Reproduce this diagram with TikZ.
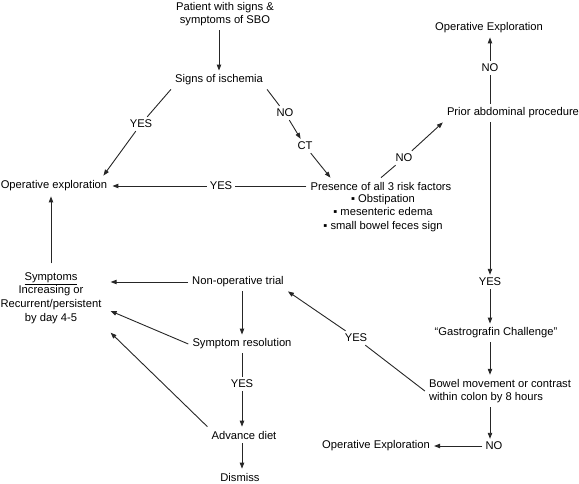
\documentclass[tikz,border=0pt]{standalone}
\usepackage{fontspec}
\setmainfont{Liberation Sans}
\usetikzlibrary{arrows.meta}

\begin{document}
\begin{tikzpicture}[x=1pt, y=-1pt,
    font=\fontsize{11.2}{13.6}\selectfont,
    txt/.style={inner sep=4pt, align=center},
    lbl/.style={inner sep=3pt},
    line/.style={draw=black!85, line width=0.9pt},
    arr/.style={line, -{Triangle[length=6pt,width=4.4pt]}}]

    \useasboundingbox (0,0) rectangle (579,484);
    \coordinate (rcol) at (490,0);
    \coordinate (mcol) at (242,0);

    \node[txt] (patient) at (225,14)  {Patient with signs \&\\symptoms of SBO};
    \node[txt] (isch)    at (219,80)  {Signs of ischemia};
    \node[txt, inner sep=5pt] (opexp) at (54,186) {Operative exploration};
    \node[lbl] (y1)      at (141,124) {YES};
    \node[lbl] (n1)      at (285,113) {NO};
    \node[lbl] (ct)      at (305,146) {CT};
    \node[txt] (pres)    at (381,186) {Presence of all 3 risk factors};
    \node[txt] (risks)   at (383,213) {▪ Obstipation\\▪ mesenteric edema\\▪ small bowel feces sign};
    \node[lbl] (y2)      at (221,186) {YES};
    \node[lbl] (n2)      at (404,158) {NO};
    \node[txt] (prior)   at (513,113) {Prior abdominal procedure};
    \node[lbl] (n3)      at (490,68)  {NO};
    \node[txt] (optop)   at (489,28)  {Operative Exploration};
    \node[lbl] (y3)      at (490,282) {YES};
    \node[txt] (gastro)  at (496,333) {“Gastrografin Challenge”};
    \node[txt, align=left] (bowel) at (500,391) {Bowel movement or contrast\\within colon by 8 hours};
    \node[lbl] (n4)      at (494,446) {NO};
    \node[txt] (opbot)   at (376,446) {Operative Exploration};
    \node[lbl] (y4)      at (356,338) {YES};
    \node[txt] (nonop)   at (238,282) {Non-operative trial};
    \node[txt, inner sep=9pt] (sympt) at (51,298) {\underline{Symptoms}\\Increasing or\\Recurrent/persistent\\by day 4-5};
    \node[txt] (symres)  at (242,344) {Symptom resolution};
    \node[lbl] (y5)      at (242,384) {YES};
    \node[txt] (advdiet) at (244,435) {Advance diet};
    \node[txt] (dismiss) at (240,477) {Dismiss};

    % ischemia branch
    \draw[arr] (patient.south -| isch.north) -- (isch.north);
    \draw[line] (isch.south west) -- (y1);
    \draw[arr] (y1) -- ([xshift=-9pt]opexp.north east);
    \draw[line] (isch.south east) -- (n1);
    \draw[arr] (n1) -- (ct);
    \draw[arr] (ct) -- ([xshift=24pt]pres.north west);
    \draw[line] (pres) -- (y2);
    \draw[arr] (y2) -- (opexp);

    % right column
    \draw[line] (pres.north) -- (n2);
    \draw[arr] (n2) -- (prior.south west);
    \draw[line] (n3 |- prior.north) -- (n3);
    \draw[arr] (n3) -- (n3 |- optop.south);
    \draw[arr] (y3 |- prior.south) -- (y3);
    \draw[arr] (y3) -- (y3 |- gastro.north);
    \draw[arr] (gastro.south -| rcol) -- (bowel.north -| rcol);
    \draw[arr] (bowel.south -| rcol) -- (n4.north -| rcol);
    \draw[arr] (n4) -- (opbot);
    \draw[line] (bowel.west) -- (y4);
    \draw[arr] (y4) -- (nonop.south east);

    % non-operative trial
    \draw[arr] (nonop) -- (sympt.east |- nonop);
    \draw[arr] (nonop.south -| mcol) -- (symres.north -| mcol);
    \draw[arr] (symres.west) -- ([yshift=-13pt]sympt.east);
    \draw[line] (symres.south -| mcol) -- (y5);
    \draw[arr] (y5) -- (advdiet.north -| mcol);
    \draw[arr] (advdiet.north west) -- (sympt.south east);
    \draw[arr] (advdiet.south -| mcol) -- (dismiss.north -| mcol);
    \draw[arr] (sympt.north) -- (sympt.north |- opexp.south);
\end{tikzpicture}
\end{document}
